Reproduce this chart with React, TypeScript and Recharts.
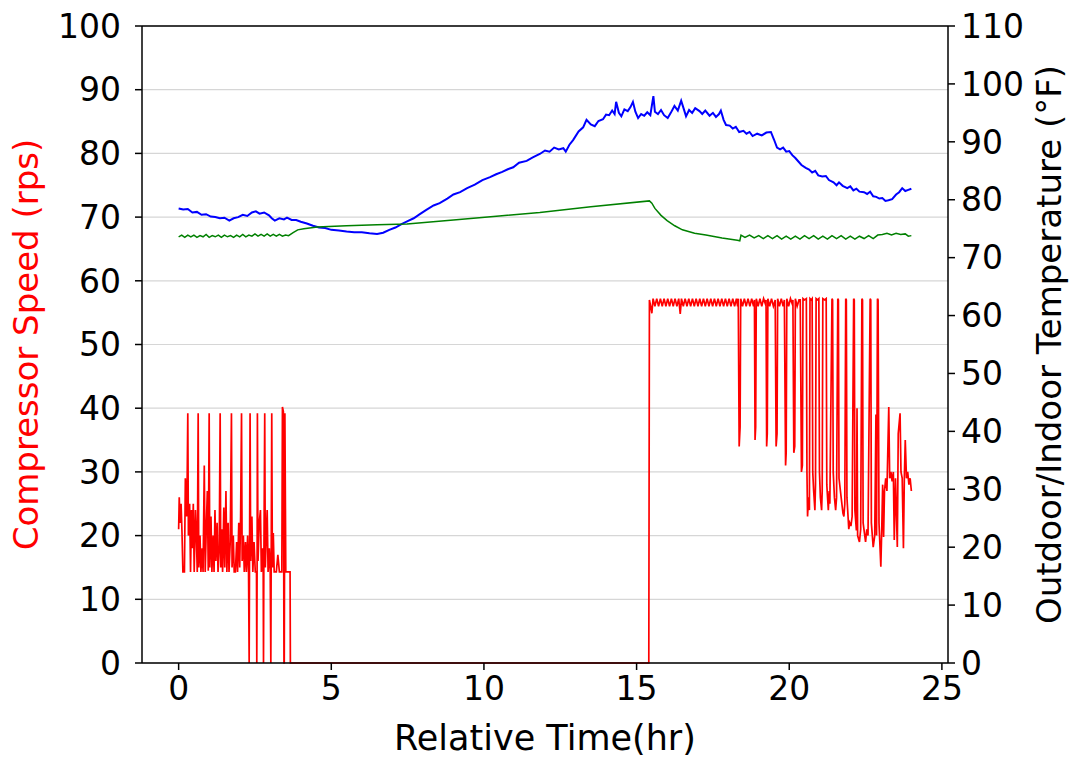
import { LineChart, Line, XAxis, YAxis, CartesianGrid, ReferenceLine } from "recharts";

const hourTicks = [0, 5, 10, 15, 20, 25];
const speedTicks = [0, 10, 20, 30, 40, 50, 60, 70, 80, 90, 100];
const tempTicks = [0, 10, 20, 30, 40, 50, 60, 70, 80, 90, 100, 110];

// compressor speed (rps): [hour, value]
const speedMorning: [number, number][] = [
  [0, 21], [0.02, 26], [0.05, 22], [0.08, 25], [0.11, 20.5], [0.14, 14.3], [0.19, 14.3],
  [0.22, 29], [0.26, 23], [0.28, 29], [0.3, 39.2], [0.32, 20], [0.36, 25], [0.39, 14.3],
  [0.42, 24], [0.45, 18], [0.48, 25], [0.51, 14.3], [0.55, 24], [0.58, 20], [0.61, 14.3],
  [0.64, 39.2], [0.66, 15], [0.7, 20], [0.73, 14.3], [0.77, 18], [0.8, 14.3], [0.84, 31],
  [0.87, 14.3], [0.91, 22], [0.94, 27], [0.97, 14.5], [1.0, 39.2], [1.02, 15], [1.06, 23],
  [1.09, 14.3], [1.13, 20], [1.16, 14.3], [1.19, 24], [1.22, 16], [1.26, 22], [1.29, 14.3],
  [1.33, 18], [1.36, 39.2], [1.38, 15], [1.41, 21], [1.44, 14.3], [1.48, 24.4], [1.51, 15],
  [1.55, 27], [1.58, 14.3], [1.62, 22], [1.65, 14.3], [1.69, 19], [1.73, 39.2], [1.75, 15],
  [1.79, 20], [1.82, 14.3], [1.86, 14.3], [1.9, 19], [1.93, 14.3], [1.97, 22], [2.0, 15],
  [2.03, 23], [2.06, 39.2], [2.08, 16], [2.12, 20], [2.15, 14.3], [2.19, 19], [2.22, 14.3],
  [2.26, 20], [2.29, 14.3], [2.31, 0], [2.32, 14.3], [2.34, 39.2], [2.36, 16], [2.4, 23],
  [2.43, 14.3], [2.47, 19], [2.51, 14.3], [2.55, 14.3], [2.56, 0], [2.57, 14.3], [2.58, 39.2],
  [2.6, 16], [2.64, 22], [2.68, 24], [2.71, 14.3], [2.75, 18], [2.77, 14.3], [2.78, 0],
  [2.79, 14.3], [2.82, 39.2], [2.84, 15], [2.87, 20], [2.9, 24], [2.93, 14.3], [2.97, 18],
  [3.0, 14.3], [3.02, 0], [3.03, 14.3], [3.05, 39.2], [3.07, 15], [3.1, 20.4], [3.13, 14.3],
  [3.2, 14.3], [3.25, 17], [3.3, 14.3], [3.38, 14.3], [3.4, 40.2], [3.43, 39.5], [3.45, 0],
  [3.46, 0], [3.48, 39.2], [3.51, 14.3], [3.65, 14.3], [3.66, 0],
];

const speedIdle: [number, number][] = [[3.7, 0], [15.4, 0]];

const speedAfternoon: [number, number][] = [
  [15.42, 57], [15.46, 56], [15.5, 54.9], [15.54, 57.2], [15.6, 56], [15.66, 57.2],
  [15.72, 56], [15.78, 57.2], [15.84, 56], [15.9, 57.2], [15.96, 56], [16.02, 57.2],
  [16.08, 56], [16.14, 57.2], [16.2, 56], [16.26, 57.2], [16.32, 56], [16.38, 57.2],
  [16.43, 54.8], [16.47, 57.2], [16.53, 56], [16.59, 57.2], [16.65, 56], [16.71, 57.2],
  [16.77, 56], [16.83, 57.2], [16.89, 56], [16.95, 57.2], [17.01, 56], [17.07, 57.2],
  [17.13, 56], [17.19, 57.2], [17.25, 56], [17.31, 57.2], [17.37, 56], [17.43, 57.2],
  [17.49, 56], [17.55, 57.2], [17.61, 56], [17.67, 57.2], [17.73, 56], [17.79, 57.2],
  [17.85, 56], [17.91, 57.2], [17.97, 56], [18.03, 57.2], [18.09, 56], [18.15, 57.2],
  [18.21, 56], [18.27, 57.2], [18.31, 56],
  [18.33, 57.2], [18.36, 34], [18.39, 37], [18.41, 57.2], [18.47, 56], [18.53, 57.2],
  [18.59, 56], [18.65, 57.2], [18.71, 56], [18.77, 57.2], [18.83, 56],
  [18.86, 57], [18.88, 35], [18.9, 37], [18.92, 57.2], [18.98, 56], [19.04, 57.2],
  [19.1, 56], [19.16, 57.2], [19.21, 56.5],
  [19.24, 57], [19.26, 34], [19.28, 36], [19.3, 57.2], [19.36, 56], [19.42, 57.2],
  [19.48, 56], [19.54, 57],
  [19.57, 34], [19.6, 36], [19.62, 57.2], [19.68, 56], [19.74, 57.2], [19.8, 56], [19.84, 57],
  [19.88, 31], [19.9, 33], [19.92, 57.2], [19.98, 56], [20.04, 57.2], [20.09, 56.5],
  [20.12, 57], [20.15, 33], [20.18, 34], [20.2, 57.2], [20.26, 56], [20.32, 57],
  [20.36, 57], [20.4, 30], [20.43, 31], [20.45, 57.2], [20.5, 57], [20.56, 57.2],
  [20.58, 30], [20.6, 23], [20.63, 26], [20.66, 24], [20.68, 57.2], [20.72, 57], [20.75, 57.2],
  [20.77, 30], [20.8, 27], [20.84, 24], [20.86, 28], [20.88, 57.2], [20.93, 57], [20.97, 57.2],
  [20.99, 30], [21.02, 26], [21.06, 24], [21.08, 27], [21.1, 57.2], [21.16, 57], [21.21, 57.2],
  [21.23, 28], [21.28, 24], [21.31, 27], [21.33, 25], [21.4, 57.2], [21.42, 57],
  [21.44, 30], [21.48, 26], [21.52, 24], [21.55, 26], [21.59, 57.2], [21.61, 57],
  [21.63, 29], [21.7, 26], [21.76, 23.5], [21.79, 23], [21.82, 25], [21.85, 57.2], [21.87, 57],
  [21.89, 26], [21.95, 21], [21.98, 22], [22.02, 21.5], [22.06, 23], [22.11, 57.2], [22.13, 57],
  [22.15, 24], [22.2, 20.8], [22.22, 40], [22.24, 20], [22.3, 19], [22.34, 21], [22.38, 57.2],
  [22.4, 57], [22.42, 22], [22.5, 19], [22.54, 21], [22.58, 20], [22.65, 57.2], [22.67, 57],
  [22.69, 22], [22.75, 18.2], [22.8, 20], [22.84, 39], [22.86, 20], [22.89, 57.2], [22.91, 57],
  [22.94, 22], [23.0, 15.1], [23.03, 21], [23.06, 28], [23.09, 19.8], [23.12, 27], [23.16, 29],
  [23.2, 27], [23.26, 40.2], [23.29, 29], [23.33, 30], [23.37, 28.5], [23.41, 30], [23.44, 19.3],
  [23.48, 29], [23.54, 18.2], [23.57, 36], [23.63, 39.2], [23.66, 30], [23.7, 29], [23.74, 18],
  [23.77, 29], [23.8, 35], [23.84, 29], [23.88, 30], [23.92, 28], [23.96, 29], [24.0, 27],
];

// outdoor temperature (°F)
const outdoorTemp: [number, number][] = [
  [0, 78.5], [0.15, 78.3], [0.3, 78.4], [0.45, 77.8], [0.6, 77.9], [0.75, 77.4], [0.9, 77.5],
  [1.05, 77.1], [1.2, 77.0], [1.35, 76.8], [1.5, 76.9], [1.66, 76.4], [1.8, 76.8], [1.95, 77.0],
  [2.1, 77.4], [2.25, 77.2], [2.4, 77.8], [2.53, 78.0], [2.65, 77.6], [2.8, 77.8], [2.96, 77.3],
  [3.05, 76.8], [3.15, 76.4], [3.3, 76.8], [3.45, 76.6], [3.55, 76.9], [3.7, 76.5], [3.85, 76.5],
  [4.0, 76.2], [4.2, 75.9], [4.4, 75.5], [4.6, 75.2], [4.8, 75.1], [5.0, 74.8], [5.25, 74.7],
  [5.5, 74.5], [5.75, 74.4], [6.0, 74.4], [6.25, 74.2], [6.5, 74.1], [6.7, 74.3], [6.9, 74.8],
  [7.1, 75.2], [7.3, 75.8], [7.5, 76.3], [7.7, 76.8], [7.9, 77.5], [8.1, 78.2], [8.35, 79.0],
  [8.55, 79.4], [8.8, 80.2], [9.0, 80.9], [9.22, 81.3], [9.45, 82.0], [9.7, 82.6], [9.95, 83.4],
  [10.2, 83.9], [10.4, 84.4], [10.6, 84.8], [10.8, 85.3], [10.96, 85.6], [11.15, 86.4],
  [11.4, 86.7], [11.6, 87.3], [11.83, 87.9], [12.0, 88.5], [12.15, 88.3], [12.3, 89.0],
  [12.45, 88.7], [12.6, 88.9], [12.68, 88.3], [12.8, 89.5], [12.92, 90.3], [13.1, 91.8],
  [13.25, 92.5], [13.36, 93.8], [13.5, 93.0], [13.63, 92.7], [13.75, 93.6], [13.9, 93.9],
  [14.0, 94.7], [14.1, 94.6], [14.2, 95.4], [14.28, 94.8], [14.33, 96.9], [14.42, 95.0],
  [14.5, 94.4], [14.6, 95.6], [14.71, 95.3], [14.8, 96.0], [14.88, 96.9], [14.96, 95.2],
  [15.05, 94.1], [15.15, 94.8], [15.25, 94.5], [15.35, 95.1], [15.45, 94.6], [15.55, 97.9],
  [15.6, 95.2], [15.7, 94.8], [15.8, 95.5], [15.9, 94.6], [16.02, 94.1], [16.12, 95.0],
  [16.24, 96.2], [16.35, 95.4], [16.46, 97.1], [16.55, 95.6], [16.62, 94.4], [16.72, 95.5],
  [16.82, 95.0], [16.92, 95.8], [17.06, 95.3], [17.15, 94.8], [17.25, 95.4], [17.39, 94.5],
  [17.5, 95.0], [17.6, 94.3], [17.7, 94.8], [17.76, 95.4], [17.85, 93.8], [17.93, 92.9],
  [18.05, 92.8], [18.15, 92.3], [18.25, 92.6], [18.36, 91.7], [18.5, 91.9], [18.6, 91.4],
  [18.7, 91.7], [18.8, 91.0], [18.95, 91.4], [19.1, 91.1], [19.25, 91.6], [19.4, 91.7],
  [19.5, 90.4], [19.6, 89.0], [19.7, 88.7], [19.8, 89.0], [19.9, 88.3], [20.0, 88.4],
  [20.1, 87.7], [20.2, 87.2], [20.3, 86.6], [20.4, 86.0], [20.54, 85.5], [20.65, 85.2],
  [20.75, 84.7], [20.85, 85.0], [20.95, 84.2], [21.08, 84.0], [21.2, 84.1], [21.3, 83.4],
  [21.45, 83.0], [21.55, 82.5], [21.63, 83.0], [21.75, 82.4], [21.9, 82.0], [22.0, 82.3],
  [22.1, 81.6], [22.2, 81.9], [22.3, 81.4], [22.45, 81.3], [22.55, 81.0], [22.65, 81.4],
  [22.75, 80.6], [22.85, 80.5], [22.95, 80.2], [23.05, 80.3], [23.15, 79.8], [23.25, 79.9],
  [23.37, 80.1], [23.5, 80.9], [23.6, 81.3], [23.7, 82.0], [23.8, 81.5], [23.9, 81.7], [24.0, 81.9],
];

// indoor temperature (°F)
const indoorTemp: [number, number][] = [
  [0, 73.6], [0.1, 73.9], [0.2, 73.5], [0.3, 73.9], [0.4, 73.6], [0.5, 73.9], [0.6, 73.5],
  [0.7, 73.8], [0.8, 73.6], [0.9, 74.0], [1.0, 73.5], [1.1, 73.8], [1.2, 73.6], [1.3, 73.9],
  [1.4, 73.5], [1.5, 73.9], [1.6, 73.6], [1.7, 73.8], [1.8, 73.5], [1.9, 73.9], [2.0, 73.6],
  [2.1, 74.0], [2.2, 73.6], [2.3, 73.9], [2.4, 73.7], [2.5, 74.1], [2.6, 73.7], [2.7, 74.0],
  [2.8, 73.7], [2.9, 74.1], [3.0, 73.7], [3.1, 74.0], [3.2, 73.7], [3.3, 74.0], [3.4, 73.7],
  [3.5, 73.9], [3.6, 73.8], [3.75, 74.3], [3.9, 74.8], [4.1, 75.0], [4.54, 75.3], [5.5, 75.5],
  [6.5, 75.7], [7.48, 75.8], [9.0, 76.5], [10.5, 77.2], [11.83, 77.8], [13.5, 78.8],
  [15.42, 79.8], [15.5, 79.4], [15.6, 78.5], [15.8, 77.3], [16.0, 76.4], [16.25, 75.5],
  [16.5, 74.8], [16.9, 74.2], [17.27, 73.9], [17.8, 73.4], [18.3, 73.0], [18.38, 72.9],
  [18.42, 73.9], [18.55, 73.5], [18.7, 73.9], [18.85, 73.4], [19.0, 73.8], [19.15, 73.3],
  [19.3, 73.8], [19.45, 73.3], [19.6, 73.8], [19.75, 73.2], [19.9, 73.7], [20.05, 73.2],
  [20.2, 73.7], [20.35, 73.2], [20.5, 73.8], [20.65, 73.3], [20.8, 73.8], [20.95, 73.2],
  [21.1, 73.7], [21.25, 73.2], [21.4, 73.8], [21.55, 73.3], [21.7, 73.8], [21.85, 73.2],
  [22.0, 73.7], [22.15, 73.2], [22.3, 73.7], [22.45, 73.3], [22.6, 73.8], [22.75, 73.3],
  [22.9, 73.9], [23.05, 74.0], [23.2, 74.2], [23.35, 73.9], [23.5, 74.2], [23.65, 74.0],
  [23.8, 74.1], [23.9, 73.7], [24.0, 73.8],
];

const toPoints = (rows: [number, number][]) => rows.map(([t, v]) => ({ t, v }));

const speedData = toPoints([...speedMorning, ...speedIdle, ...speedAfternoon]);
const outdoorData = toPoints(outdoorTemp);
const indoorData = toPoints(indoorTemp);

const FONT = "DejaVu Sans, sans-serif";
const axisStroke = { stroke: "#000", strokeWidth: 1.5 };

// rotated axis title; baseline sits `shift` px from the axis box's left edge
function SideLabel({ viewBox, text, shift, color }: any) {
  const x = viewBox.x + shift;
  const y = viewBox.y + viewBox.height / 2;
  return (
    <text
      x={x}
      y={y}
      transform={`rotate(-90, ${x}, ${y})`}
      textAnchor="middle"
      fontSize={34}
      fontFamily={FONT}
      fill={color}
    >
      {text}
    </text>
  );
}

function BottomLabel({ viewBox }: any) {
  return (
    <text
      x={viewBox.x + viewBox.width / 2}
      y={viewBox.y + 87}
      textAnchor="middle"
      fontSize={35}
      fontFamily={FONT}
      fill="#000"
    >
      Relative Time(hr)
    </text>
  );
}

export default function App() {
  const tick = { fontSize: 33, fontFamily: FONT, fill: "#000" };
  return (
    <div style={{ position: "absolute", left: 0, top: 0, background: "#fff" }}>
      <LineChart width={1077} height={757} margin={{ top: 26, right: 0, bottom: 0, left: 0 }}>
        <CartesianGrid
          yAxisId="left"
          vertical={false}
          stroke="#d6d6d6"
          strokeWidth={1.2}
        />
        <XAxis
          type="number"
          dataKey="t"
          domain={[-1.2, 25.2]}
          ticks={hourTicks}
          interval={0}
          height={94}
          tick={tick}
          tickSize={7}
          tickMargin={7}
          axisLine={axisStroke}
          tickLine={axisStroke}
          label={<BottomLabel />}
        />
        <YAxis
          yAxisId="left"
          domain={[0, 100]}
          ticks={speedTicks}
          interval={0}
          width={142}
          tick={tick}
          tickSize={7}
          tickMargin={14}
          axisLine={axisStroke}
          tickLine={axisStroke}
          label={<SideLabel text="Compressor Speed (rps)" shift={38} color="#ff0000" />}
        />
        <YAxis
          yAxisId="right"
          orientation="right"
          domain={[0, 110]}
          ticks={tempTicks}
          interval={0}
          width={129}
          tick={tick}
          tickSize={7}
          tickMargin={6}
          axisLine={axisStroke}
          tickLine={axisStroke}
          label={<SideLabel text="Outdoor/Indoor Temperature (°F)" shift={113} color="#000" />}
        />
        <ReferenceLine yAxisId="left" y={100} stroke="#000" strokeWidth={1.5} />
        <Line
          yAxisId="left"
          data={speedData}
          dataKey="v"
          type="linear"
          stroke="#ff0000"
          strokeWidth={1.7}
          dot={false}
          isAnimationActive={false}
        />
        <Line
          yAxisId="right"
          data={outdoorData}
          dataKey="v"
          type="linear"
          stroke="#0000ff"
          strokeWidth={2}
          dot={false}
          isAnimationActive={false}
        />
        <Line
          yAxisId="right"
          data={indoorData}
          dataKey="v"
          type="linear"
          stroke="#008000"
          strokeWidth={1.5}
          dot={false}
          isAnimationActive={false}
        />
      </LineChart>
    </div>
  );
}
